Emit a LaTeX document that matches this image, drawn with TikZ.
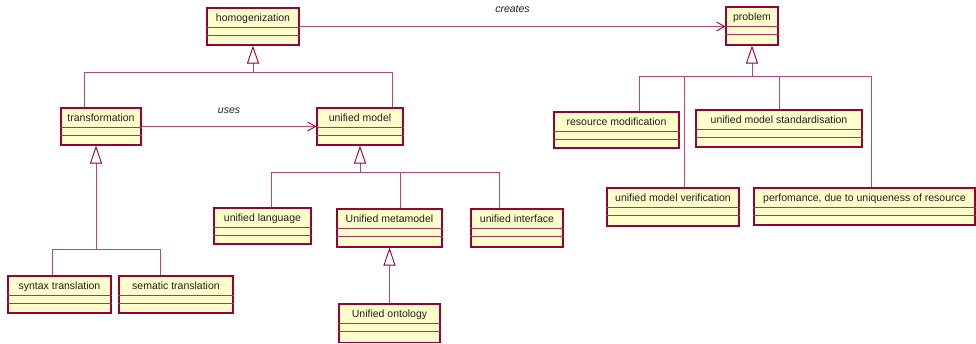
\documentclass[tikz,border=0pt]{standalone}
\usepackage{fontspec}
\setmainfont{Liberation Sans}
\usetikzlibrary{arrows.meta,calc}
\definecolor{umlborder}{RGB}{153,0,51}
\definecolor{umlfill}{RGB}{255,255,204}
\definecolor{umlline}{RGB}{190,70,115}
\definecolor{umltext}{RGB}{30,30,30}
\tikzset{
  clsbox/.style={draw=umlborder, fill=umlfill, line width=1.1pt, inner sep=0pt, rectangle},
  compline/.style={draw=umlborder!80!white, line width=0.9pt},
  clstext/.style={text=umltext, font=\fontsize{10.5}{12}\selectfont, inner sep=0pt, anchor=base},
  lbltext/.style={text=umltext, font=\fontsize{10.5}{12}\selectfont\itshape, inner sep=0pt, anchor=base},
  conn/.style={draw=umlline, line width=0.9pt},
  gentip/.style={draw=umlline, line width=0.9pt, -{Triangle[length=18pt, width=12pt, color=umlborder, fill=white]}},
  assoc/.style={draw=umlline, line width=0.9pt, -{Straight Barb[length=8pt, width=9pt, color=umlborder]}}
}
\newcommand{\umlcls}[6]{%
  \pgfmathsetmacro{\clsW}{#4-#2}%
  \pgfmathsetmacro{\clsH}{#5-#3}%
  \pgfmathsetmacro{\clsX}{(#2+#4)/2}%
  \pgfmathsetmacro{\clsY}{(#3+#5)/2}%
  \node[clsbox, minimum width=\clsW pt, minimum height=\clsH pt] (#1) at (\clsX,\clsY) {};
  \draw[compline] ($(#1.north west)+(0,20)$) -- ($(#1.north east)+(0,20)$);
  \draw[compline] ($(#1.north west)+(0,27.5)$) -- ($(#1.north east)+(0,27.5)$);
  \node[clstext] (#1-t) at ($(#1.north)+(0,13.8)$) {#6};
}
\begin{document}
\begin{tikzpicture}[x=1pt, y=-1pt]
\useasboundingbox (0,0) rectangle (976,343);

% classes
\umlcls{homog}{207}{8}{299}{45}{homogenization}
\umlcls{problem}{726}{7}{778}{45}{problem}
\umlcls{transf}{61}{108}{141}{145}{transformation}
\umlcls{umodel}{317}{108}{403}{145}{unified model}
\umlcls{resmod}{554}{112}{679}{148}{resource modification}
\umlcls{standard}{696}{110}{862}{147}{unified model standardisation}
\umlcls{verif}{607}{188}{739}{226}{unified model verification}
\umlcls{perf}{754}{188}{975}{225}{perfomance, due to uniqueness of resource}
\umlcls{ulang}{214}{208}{311}{244}{unified language}
\umlcls{umeta}{337}{209}{442}{247}{Unified metamodel}
\umlcls{uint}{471}{209}{563}{247}{unified interface}
\umlcls{syntax}{8}{276}{111}{313}{syntax translation}
\umlcls{sematic}{119}{276}{233}{313}{sematic translation}
\umlcls{onto}{339}{304}{440}{342.4}{Unified ontology}

% associations
\draw[assoc] (homog.east) -- (homog.east -| problem.west);
\node[lbltext] (lcreates) at (512.5,12) {creates};
\draw[assoc] (transf.east) -- (transf.east -| umodel.west);
\node[lbltext] (luses) at (229,113) {uses};

% generalization: homogenization
\coordinate (hJ) at (253,72);
\coordinate (hL) at (84,72);
\coordinate (hR) at (392,72);
\draw[gentip] (hJ) -- (hJ |- homog.south);
\draw[conn] (hL) -- (hR);
\draw[conn] (hL) -- (hL |- transf.north);
\draw[conn] (hR) -- (hR |- umodel.north);

% generalization: transformation
\coordinate (tJ) at (96,249);
\coordinate (tL) at (52,249);
\coordinate (tR) at (160,249);
\draw[gentip] (tJ) -- (tJ |- transf.south);
\draw[conn] (tL) -- (tR);
\draw[conn] (tL) -- (tL |- syntax.north);
\draw[conn] (tR) -- (tR |- sematic.north);

% generalization: unified model
\coordinate (uJ) at (360,172);
\coordinate (uL) at (271,172);
\coordinate (uM) at (400,172);
\coordinate (uR) at (499,172);
\draw[gentip] (uJ) -- (uJ |- umodel.south);
\draw[conn] (uL) -- (uR);
\draw[conn] (uL) -- (uL |- ulang.north);
\draw[conn] (uM) -- (uM |- umeta.north);
\draw[conn] (uR) -- (uR |- uint.north);

% generalization: metamodel
\draw[gentip] (onto.north) -- (umeta.south);

% generalization: problem
\coordinate (pJ) at (752,76);
\coordinate (pA) at (639,76);
\coordinate (pB) at (684,76);
\coordinate (pC) at (779,76);
\coordinate (pD) at (871,76);
\draw[gentip] (pJ) -- (pJ |- problem.south);
\draw[conn] (pA) -- (pD);
\draw[conn] (pA) -- (pA |- resmod.north);
\draw[conn] (pB) -- (pB |- verif.north);
\draw[conn] (pC) -- (pC |- standard.north);
\draw[conn] (pD) -- (pD |- perf.north);
\end{tikzpicture}
\end{document}
